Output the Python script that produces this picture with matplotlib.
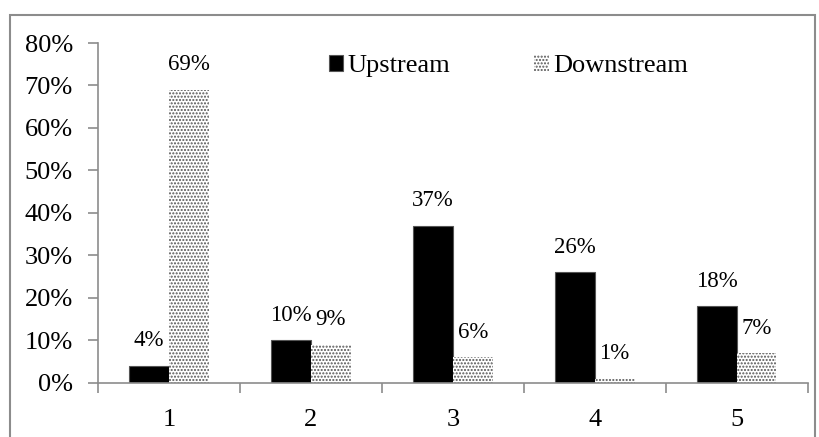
import numpy as np
import matplotlib
matplotlib.use("Agg")
import matplotlib.pyplot as plt
from matplotlib.patches import Rectangle

plt.rcParams['font.family'] = ['Liberation Serif', 'DejaVu Serif']
plt.rcParams['hatch.linewidth'] = 1.0

categories = ['1', '2', '3', '4', '5']
upstream = [0.04, 0.10, 0.37, 0.26, 0.18]
downstream = [0.69, 0.09, 0.06, 0.01, 0.07]
up_labels = ['4%', '10%', '37%', '26%', '18%']
down_labels = ['69%', '9%', '6%', '1%', '7%']
yticks = [0, 0.1, 0.2, 0.3, 0.4, 0.5, 0.6, 0.7, 0.8]

fig = plt.figure(figsize=(8.2, 4.37), dpi=100)
ax = fig.add_axes([0.1195, 0.1236, 0.8655, 0.778])

# frame round the whole chart, open at the bottom
fig.patches.append(Rectangle((10 / 820, -0.05), 805 / 820, 1.05 - 15 / 437,
                             transform=fig.transFigure, fill=False,
                             edgecolor='#8c8c8c', linewidth=1.5))

x = np.arange(1, len(categories) + 1)
w = 0.28
b1 = ax.bar(x - w / 2, upstream, w, color='black', edgecolor='#555555',
            linewidth=0.8, label='Upstream')
b2 = ax.bar(x + w / 2, downstream, w, color='white', edgecolor='#555555',
            linewidth=0, hatch='.....', label='Downstream')

for rect, lab in zip(b1, up_labels):
    ax.annotate(lab, (rect.get_x() + rect.get_width() / 2, rect.get_height()),
                xytext=(0, 18), textcoords='offset points',
                ha='center', va='center', fontsize=16.5)
for rect, lab in zip(b2, down_labels):
    ax.annotate(lab, (rect.get_x() + rect.get_width() / 2, rect.get_height()),
                xytext=(0, 18), textcoords='offset points',
                ha='center', va='center', fontsize=16.5)

ax.set_xlim(0.5, 5.5)
ax.set_ylim(0, 0.8)
ax.set_yticks(yticks)
ax.set_yticklabels(['%d%%' % round(v * 100) for v in yticks])
ax.set_xticks(x)
ax.set_xticklabels(categories)
ax.set_xticks(np.arange(0.5, 6, 1), minor=True)
ax.tick_params(axis='x', which='major', length=0, pad=19, labelsize=19)
ax.tick_params(axis='x', which='minor', length=7, width=1.2, color='#8c8c8c')
ax.tick_params(axis='y', length=7, width=1.2, color='#8c8c8c', pad=11,
               labelsize=19)

for s in ['top', 'right']:
    ax.spines[s].set_visible(False)
for s in ['left', 'bottom']:
    ax.spines[s].set_color('#8c8c8c')
    ax.spines[s].set_linewidth(1.2)

ax.legend(loc='upper center', bbox_to_anchor=(0.578, 1.035), ncol=2,
          frameon=False, fontsize=19, handlelength=0.55, handleheight=0.55,
          handletextpad=0.15, columnspacing=3.2)

fig.savefig('out.png', dpi=100)
